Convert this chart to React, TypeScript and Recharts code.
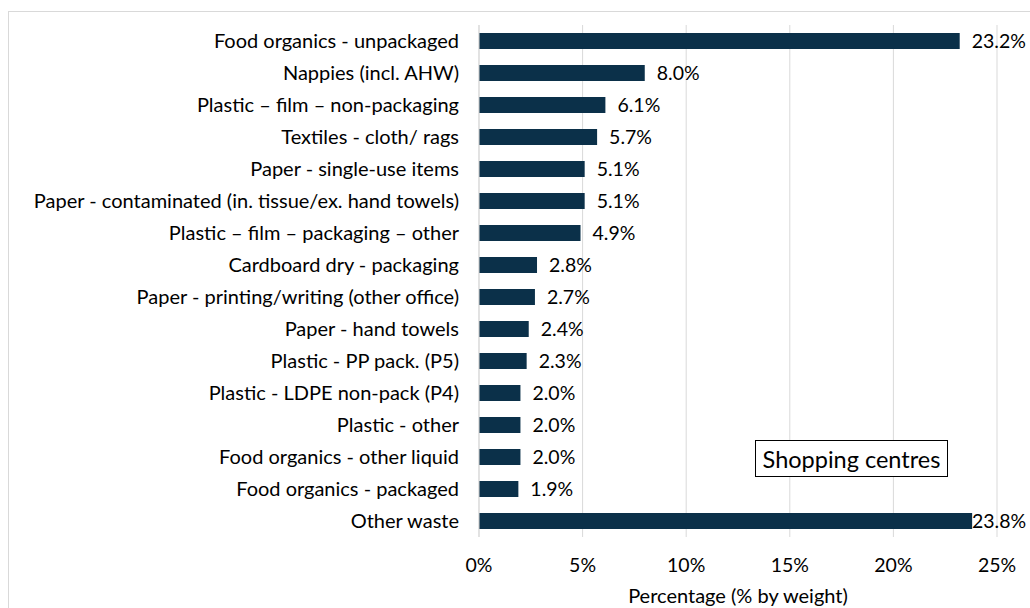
import React from "react"
import { BarChart, Bar, XAxis, YAxis, CartesianGrid, LabelList } from "recharts"

const categories = [
  "Food organics - unpackaged",
  "Nappies (incl. AHW)",
  "Plastic – film – non-packaging",
  "Textiles - cloth/ rags",
  "Paper - single-use items",
  "Paper - contaminated (in. tissue/ex. hand towels)",
  "Plastic – film – packaging – other",
  "Cardboard dry - packaging",
  "Paper - printing/writing (other office)",
  "Paper - hand towels",
  "Plastic - PP pack. (P5)",
  "Plastic - LDPE non-pack (P4)",
  "Plastic - other",
  "Food organics - other liquid",
  "Food organics - packaged",
  "Other waste",
]

const shares = [23.2, 8.0, 6.1, 5.7, 5.1, 5.1, 4.9, 2.8, 2.7, 2.4, 2.3, 2.0, 2.0, 2.0, 1.9, 23.8]

const xTicks = [0, 5, 10, 15, 20, 25]

const data = categories.map((name, i) => ({ name, value: shares[i] }))

const FONT = "Lato, 'Open Sans', sans-serif"
const BAR = "#0b3049"

// keeps the value label inside the chart when the bar is long
const ValueLabel = (props: any) => {
  const { x, y, width, height, value } = props
  const tx = Math.min(x + width + 12, 963)
  return (
    <text x={tx} y={y + height / 2} dy="0.36em" fontSize={19.5} fill="#000" fontFamily={FONT}>
      {value.toFixed(1)}%
    </text>
  )
}

export default function App() {
  return (
    <div
      style={{
        position: "fixed",
        left: 8,
        top: 11,
        width: 1040,
        height: 620,
        border: "1px solid #d9d9d9",
        background: "#fff",
        fontFamily: FONT,
      }}
    >
      <BarChart
        width={1021}
        height={596}
        data={data}
        layout="vertical"
        barSize={16}
        margin={{ top: 13, right: 33, left: 0, bottom: 0 }}
      >
        <CartesianGrid horizontal={false} stroke="#d9d9d9" />
        <XAxis
          type="number"
          domain={[0, 25]}
          ticks={xTicks}
          tickFormatter={(v) => `${v}%`}
          axisLine={false}
          tickLine={false}
          tickSize={0}
          tickMargin={21}
          height={71}
          tick={{ fontSize: 19.5, fill: "#000", fontFamily: FONT }}
          label={{
            content: ({ viewBox }: any) => (
              <text
                x={viewBox.x + viewBox.width / 2}
                y={viewBox.y + 59}
                textAnchor="middle"
                dy="0.36em"
                fontSize={20}
                fill="#000"
                fontFamily={FONT}
              >
                Percentage (% by weight)
              </text>
            ),
          }}
        />
        <YAxis
          type="category"
          dataKey="name"
          width={470}
          axisLine={{ stroke: "#d9d9d9" }}
          tickLine={false}
          tickSize={0}
          tickMargin={20}
          interval={0}
          tick={{ fontSize: 20, fill: "#000", fontFamily: FONT }}
        />
        <Bar dataKey="value" fill={BAR} isAnimationActive={false}>
          <LabelList dataKey="value" content={ValueLabel} />
        </Bar>
      </BarChart>
      <div
        style={{
          position: "absolute",
          left: 746,
          top: 428,
          width: 193,
          height: 37,
          boxSizing: "border-box",
          border: "1px solid #000",
          display: "flex",
          alignItems: "center",
          justifyContent: "center",
          fontSize: 23.5,
          color: "#000",
          background: "#fff",
        }}
      >
        Shopping centres
      </div>
    </div>
  )
}
